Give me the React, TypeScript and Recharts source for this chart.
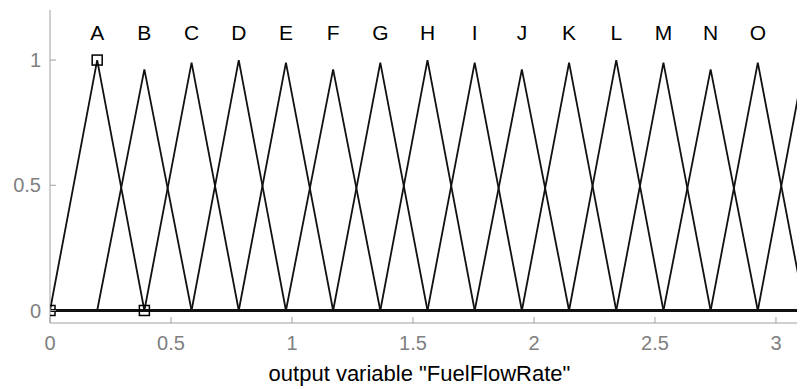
import React from "react";
import { ComposedChart, Line, Scatter, XAxis, YAxis } from "recharts";

// membership functions of output variable "FuelFlowRate"
const MF_NAMES = ["A", "B", "C", "D", "E", "F", "G", "H", "I", "J", "K", "L", "M", "N", "O", "P"];
const MF_PEAKS = [0.195, 0.39, 0.585, 0.78, 0.975, 1.17, 1.365, 1.56, 1.755, 1.95, 2.145, 2.34, 2.535, 2.73, 2.925, 3.12];
// drawn peak heights (sampling makes some peaks look lower than 1)
const MF_HEIGHTS = [1, 0.963, 0.99, 1, 0.99, 0.963, 0.99, 1, 0.99, 0.963, 0.99, 1, 0.99, 0.963, 0.99, 1];
const RANGE_END = 3.315;

// the selected MF (A) shows its parameters as square handles
const SELECTED_PARAMS = [0, 0.195, 0.39];
const SELECTED_LEVELS = [0, 1, 0];

const X_TICKS = [0, 0.5, 1, 1.5, 2, 2.5, 3];
const Y_TICKS = [0, 0.5, 1];

const AXIS_COLOR = "#a0a0a0";
const TICK_TEXT = "#808080";
const LABEL_Y = 1.11;
const FONT = '"Liberation Sans", Arial, sans-serif';

const mfSeries = MF_PEAKS.map((peak, i) => {
  const left = i === 0 ? 0 : MF_PEAKS[i - 1];
  const right = i < MF_PEAKS.length - 1 ? MF_PEAKS[i + 1] : RANGE_END;
  return [
    { x: 0, y: 0 },
    { x: left, y: 0 },
    { x: peak, y: MF_HEIGHTS[i] },
    { x: right, y: 0 },
    { x: RANGE_END, y: 0 },
  ];
});

const handles = SELECTED_PARAMS.map((x, i) => ({ x, y: SELECTED_LEVELS[i] }));
const nameData = MF_NAMES.map((name, i) => ({ x: MF_PEAKS[i], y: LABEL_Y, name }));

const YTick = (props: any) => {
  const { x, y, payload } = props;
  return (
    <g>
      <line x1={x} y1={y} x2={x + 6} y2={y} stroke={AXIS_COLOR} />
      <text x={x - 9} y={y} dy="0.36em" textAnchor="end" fill={TICK_TEXT} fontSize={20}>
        {payload.value}
      </text>
    </g>
  );
};

const XTick = (props: any) => {
  const { x, y, payload } = props;
  return (
    <g>
      <line x1={x} y1={y} x2={x} y2={y - 6} stroke={AXIS_COLOR} />
      <text x={x} y={y + 13} dy="0.71em" textAnchor="middle" fill={TICK_TEXT} fontSize={20}>
        {payload.value}
      </text>
    </g>
  );
};

const TopTick = (props: any) => {
  const { x, y } = props;
  return <line x1={x} y1={y} x2={x} y2={y + 6} stroke={AXIS_COLOR} />;
};

const Handle = (props: any) => {
  const { cx, cy } = props;
  return <rect x={cx - 5} y={cy - 5} width={10} height={10} fill="none" stroke="#000" strokeWidth={1.5} />;
};

const NameLabel = (props: any) => {
  const { cx, cy, payload } = props;
  return (
    <text x={cx} y={cy} dy="0.36em" textAnchor="middle" fill="#000" fontSize={21}>
      {payload.name}
    </text>
  );
};

export default function App() {
  return (
    <div style={{ fontFamily: FONT }}>
      <ComposedChart width={797} height={381} margin={{ top: 2, right: 0, bottom: 0, left: 0 }}>
        <XAxis
          xAxisId="b"
          type="number"
          dataKey="x"
          domain={[0, 3.12]}
          ticks={X_TICKS}
          allowDataOverflow
          height={66}
          tickSize={0}
          tickMargin={0}
          tickLine={false}
          axisLine={{ stroke: AXIS_COLOR }}
          tick={XTick}
          label={{
            value: 'output variable "FuelFlowRate"',
            position: "insideBottom",
            offset: 8,
            dx: -8,
            fill: "#000",
            fontSize: 22,
          }}
        />
        <XAxis
          xAxisId="t"
          orientation="top"
          type="number"
          domain={[0, 3.12]}
          ticks={X_TICKS}
          allowDataOverflow
          height={0}
          tickSize={0}
          tickMargin={0}
          tickLine={false}
          axisLine={{ stroke: AXIS_COLOR }}
          tick={TopTick}
        />
        <YAxis
          type="number"
          dataKey="y"
          domain={[-0.05, 1.2]}
          ticks={Y_TICKS}
          allowDataOverflow
          width={42}
          tickSize={0}
          tickMargin={0}
          tickLine={false}
          axisLine={{ stroke: AXIS_COLOR }}
          tick={YTick}
        />
        {mfSeries.map((pts, i) => (
          <Line
            key={MF_NAMES[i]}
            xAxisId="b"
            data={pts}
            dataKey="y"
            type="linear"
            stroke="#111"
            strokeWidth={1.8}
            dot={false}
            activeDot={false}
            isAnimationActive={false}
          />
        ))}
        <Scatter xAxisId="b" data={handles} dataKey="y" shape={Handle} isAnimationActive={false} />
        <Scatter xAxisId="b" data={nameData} dataKey="y" shape={NameLabel} isAnimationActive={false} />
      </ComposedChart>
    </div>
  );
}
